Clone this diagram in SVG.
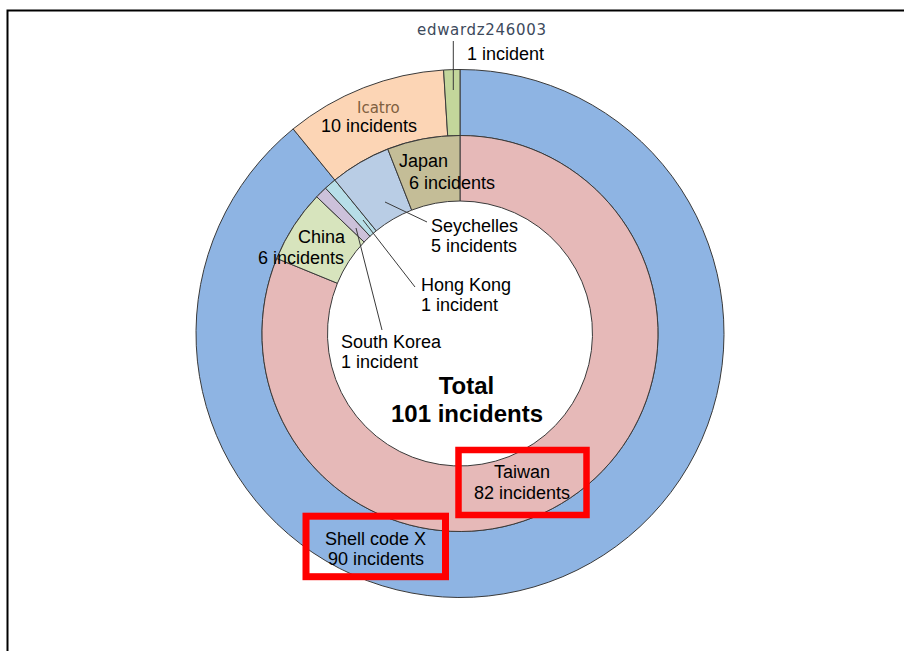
<svg xmlns="http://www.w3.org/2000/svg" width="904" height="651" viewBox="0 0 904 651">
<style>
.sl{stroke:#3a3a3a;stroke-width:1;stroke-linejoin:round}
.t{font-family:"Liberation Sans",Arial,sans-serif;font-size:18px;fill:#000}
.v{font-family:"DejaVu Sans",Verdana,sans-serif;font-size:15px}
.b{font-family:"Liberation Sans",Arial,sans-serif;font-size:24px;font-weight:bold;fill:#000}
.ld{stroke:#3a3a3a;stroke-width:1;fill:none}
.hl{fill:none;stroke:#ff0000}
</style>
<rect width="904" height="651" fill="#fff"/>
<path d="M7.5,651 V10.5 H904" fill="none" stroke="#000" stroke-width="2"/>
<g id="shell-code-x"><path class="sl" fill="#8EB4E3" d="M460,69.5 A264,264 0 1 1 293.14,128.92 L334.85,180.07 A198,198 0 1 0 460,135.5 Z"/></g>
<g id="icatro"><path class="sl" fill="#FCD5B5" d="M293.14,128.92 A264,264 0 0 1 443.59,70.01 L447.69,135.88 A198,198 0 0 0 334.85,180.07 Z"/></g>
<g id="edwardz"><path class="sl" fill="#C3D69B" d="M443.59,70.01 A264,264 0 0 1 460,69.5 L460,135.5 A198,198 0 0 0 447.69,135.88 Z"/></g>
<g id="taiwan"><path class="sl" fill="#E6B9B8" d="M460,135.5 A198,198 0 1 1 276.77,258.44 L337.38,283.27 A132.5,132.5 0 1 0 460,201 Z"/></g>
<g id="china"><path class="sl" fill="#D7E4BD" d="M276.77,258.44 A198,198 0 0 1 316.74,196.82 L364.13,242.04 A132.5,132.5 0 0 0 337.38,283.27 Z"/></g>
<g id="south-korea"><path class="sl" fill="#CCC1DA" d="M316.74,196.82 A198,198 0 0 1 325.54,188.15 L370.02,236.24 A132.5,132.5 0 0 0 364.13,242.04 Z"/></g>
<g id="hong-kong"><path class="sl" fill="#B7DEE8" d="M325.54,188.15 A198,198 0 0 1 334.85,180.07 L376.25,230.82 A132.5,132.5 0 0 0 370.02,236.24 Z"/></g>
<g id="seychelles"><path class="sl" fill="#B9CDE5" d="M334.85,180.07 A198,198 0 0 1 387.81,149.13 L411.69,210.12 A132.5,132.5 0 0 0 376.25,230.82 Z"/></g>
<g id="japan"><path class="sl" fill="#C4BD97" d="M387.81,149.13 A198,198 0 0 1 460,135.5 L460,201 A132.5,132.5 0 0 0 411.69,210.12 Z"/></g>
<g id="connectors">
<line class="ld" x1="453.3" y1="41" x2="453.3" y2="90"/>
<line class="ld" x1="385" y1="202" x2="427" y2="222"/>
<line class="ld" x1="363" y1="220" x2="415" y2="287"/>
<line class="ld" x1="356" y1="228" x2="382" y2="330"/>
</g>
<g id="labels">
<text class="v" x="417" y="35" fill="#3d4a5c" textLength="129">edwardz246003</text>
<text class="t" x="467" y="60">1 incident</text>
<text class="v" x="357" y="113" fill="#7f6040">Icatro</text>
<text class="t" x="321" y="132">10 incidents</text>
<text class="t" x="399" y="167">Japan</text>
<text class="t" x="409" y="189">6 incidents</text>
<text class="t" x="431" y="232">Seychelles</text>
<text class="t" x="431" y="251.5">5 incidents</text>
<text class="t" x="298" y="243">China</text>
<text class="t" x="258" y="264">6 incidents</text>
<text class="t" x="421" y="291">Hong Kong</text>
<text class="t" x="421" y="310.5">1 incident</text>
<text class="t" x="341" y="348">South Korea</text>
<text class="t" x="341" y="367.5">1 incident</text>
<text class="b" x="466.5" y="394" text-anchor="middle">Total</text>
<text class="b" x="467" y="422" text-anchor="middle">101 incidents</text>
<text class="t" x="522" y="478" text-anchor="middle">Taiwan</text>
<text class="t" x="522" y="499" text-anchor="middle">82 incidents</text>
<text class="t" x="375.5" y="545" text-anchor="middle">Shell code X</text>
<text class="t" x="376" y="565" text-anchor="middle">90 incidents</text>
</g>
<g id="highlights">
<rect class="hl" x="458.5" y="450" width="128" height="65" stroke-width="6.5"/>
<rect class="hl" x="306" y="516.2" width="139.5" height="60.5" stroke-width="7"/>
</g>
</svg>
